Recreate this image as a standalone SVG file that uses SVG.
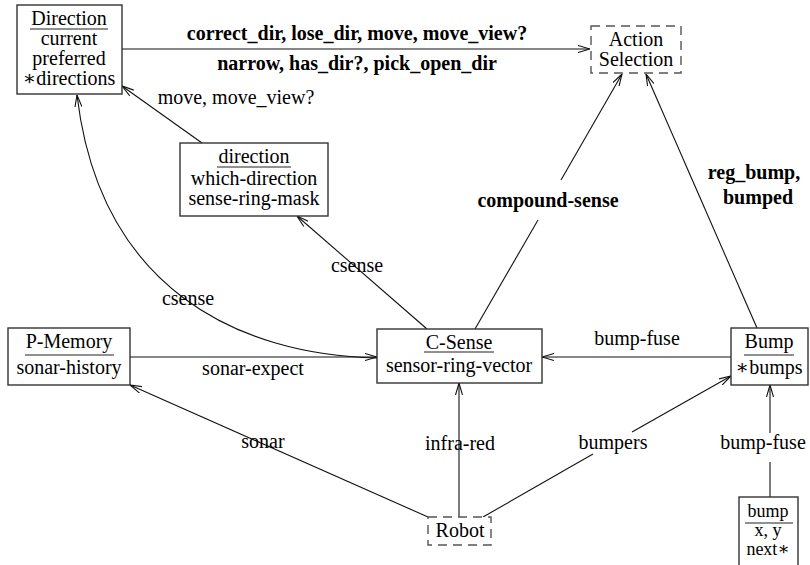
<svg xmlns="http://www.w3.org/2000/svg" width="810" height="565" viewBox="0 0 810 565" font-family="'Liberation Serif', 'DejaVu Serif', serif">
<style>
text{font-family:'Liberation Serif','DejaVu Serif',serif;font-size:20px;fill:#000;text-anchor:middle}
.b{font-weight:bold}
.s{font-size:18px}
.box{fill:#fff;stroke:#333;stroke-width:1.4}
.dash{fill:#fff;stroke:#555;stroke-width:1.4;stroke-dasharray:9 6}
.ul{stroke:#222;stroke-width:1.2}
.c{fill:none;stroke:#111;stroke-width:1.1;marker-end:url(#ah)}
.n{fill:none;stroke:#111;stroke-width:1.1}
</style>
<defs>
<marker id="ah" viewBox="0 0 12 8" refX="12" refY="4" markerWidth="12" markerHeight="8" markerUnits="userSpaceOnUse" orient="auto">
<path d="M0,0.5 L12,4 L0,7.5" fill="none" stroke="#111" stroke-width="1.1"/>
</marker>
</defs>
<rect width="810" height="565" fill="#fff"/>
<g id="connectors">
<path class="c" d="M122,49 L590,49"/>
<path class="c" d="M202,143 L122,86"/>
<path class="c" d="M377,358 C240,355 100,290 77,95"/>
<path class="c" d="M427,329 L297,216"/>
<path class="n" d="M475,329 L538,220"/>
<path class="c" d="M561,180 L622,74"/>
<path class="c" d="M757,328 L646,74"/>
<path class="c" d="M130,357 L377,357"/>
<path class="c" d="M731,357 L542,357"/>
<path class="c" d="M428,517 L130,385"/>
<path class="c" d="M459,517 L459,383"/>
<path class="n" d="M483,517 L593,454"/>
<path class="c" d="M632,432 L731,376"/>
<path class="n" d="M770,497 L770,462"/>
<path class="c" d="M770,433 L770,385"/>
<text class="b" x="357" y="40">correct_dir, lose_dir, move, move_view?</text>
<text class="b" x="357" y="70">narrow, has_dir?, pick_open_dir</text>
<text x="236" y="104">move, move_view?</text>
<text x="188" y="305">csense</text>
<text x="357" y="272">csense</text>
<text class="b" x="548" y="207">compound-sense</text>
<text class="b" x="754" y="179">reg_bump,</text>
<text class="b" x="758" y="204">bumped</text>
<text x="253" y="375">sonar-expect</text>
<text x="637" y="345">bump-fuse</text>
<text x="263" y="448">sonar</text>
<text x="460" y="450">infra-red</text>
<text x="613" y="449">bumpers</text>
<text x="763" y="449">bump-fuse</text>
</g>
<g id="Direction">
<rect class="box" x="17" y="5" width="105" height="89"/>
<text x="69" y="25">Direction</text>
<line class="ul" x1="30" y1="29" x2="108" y2="29"/>
<text x="69" y="45">current</text>
<text x="69" y="65">preferred</text>
<text x="69" y="85">∗directions</text>
</g>
<g id="ActionSelection">
<rect class="dash" x="591" y="26" width="90" height="47"/>
<text x="636" y="46">Action</text>
<text x="636" y="66">Selection</text>
</g>
<g id="direction">
<rect class="box" x="180" y="143" width="148" height="73"/>
<text x="254" y="163">direction</text>
<line class="ul" x1="217" y1="167" x2="291" y2="167"/>
<text x="254" y="185">which-direction</text>
<text x="254" y="205">sense-ring-mask</text>
</g>
<g id="PMemory">
<rect class="box" x="8" y="328" width="122" height="57"/>
<text x="69" y="348">P-Memory</text>
<line class="ul" x1="25" y1="355" x2="114" y2="355"/>
<text x="69" y="374">sonar-history</text>
</g>
<g id="CSense">
<rect class="box" x="377" y="329" width="165" height="54"/>
<text x="459" y="349">C-Sense</text>
<line class="ul" x1="424" y1="352" x2="494" y2="352"/>
<text x="459" y="372">sensor-ring-vector</text>
</g>
<g id="Bump">
<rect class="box" x="731" y="328" width="77" height="57"/>
<text x="769" y="348">Bump</text>
<line class="ul" x1="744" y1="355" x2="794" y2="355"/>
<text x="769" y="374">∗bumps</text>
</g>
<g id="Robot">
<rect class="dash" x="428" y="517" width="63" height="28"/>
<text x="460" y="537">Robot</text>
</g>
<g id="bump">
<rect class="box" x="739" y="497" width="59" height="75"/>
<text class="s" x="768" y="517">bump</text>
<line class="ul" x1="745" y1="523" x2="793" y2="523"/>
<text class="s" x="768" y="536">x, y</text>
<text class="s" x="768" y="555">next∗</text>
</g>
</svg>
